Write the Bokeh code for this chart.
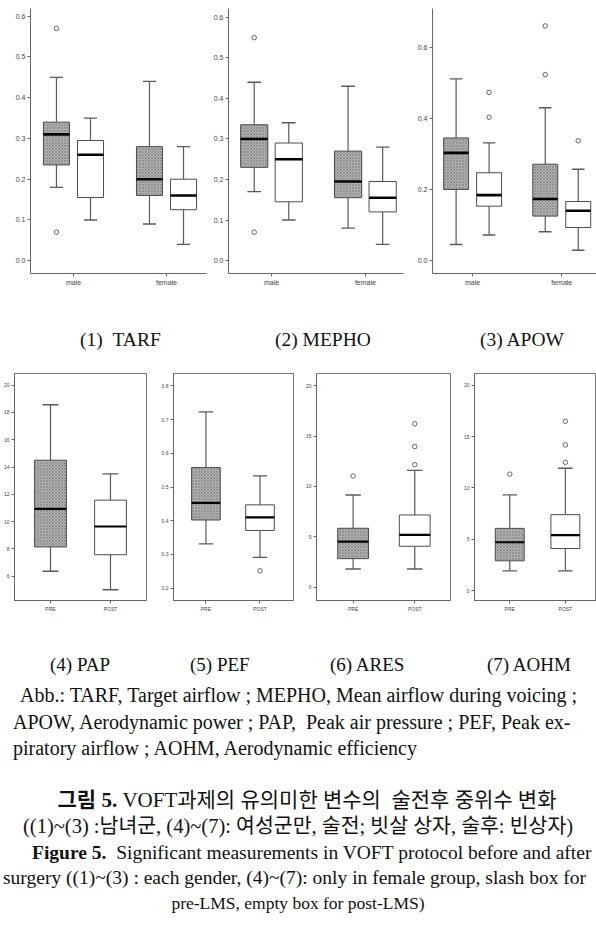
from bokeh.plotting import figure
from bokeh.layouts import column, row
from bokeh.models import FixedTicker, Div, Range1d, NumeralTickFormatter
from bokeh.embed import file_html
from bokeh.resources import INLINE

# ---------------- data ----------------
# top row: order = male pre, male post, female pre, female post
top_groups = ["male", "female"]
top_kind = ["pre", "post", "pre", "post"]

tarf_q1 = [0.235, 0.155, 0.160, 0.125]
tarf_med = [0.310, 0.260, 0.200, 0.160]
tarf_q3 = [0.340, 0.295, 0.280, 0.200]
tarf_lo = [0.180, 0.100, 0.090, 0.040]
tarf_hi = [0.450, 0.350, 0.440, 0.280]
tarf_out_box = [0, 0]
tarf_out_val = [0.570, 0.070]

mepho_q1 = [0.230, 0.145, 0.155, 0.120]
mepho_med = [0.300, 0.250, 0.195, 0.155]
mepho_q3 = [0.335, 0.290, 0.270, 0.195]
mepho_lo = [0.170, 0.100, 0.080, 0.040]
mepho_hi = [0.440, 0.340, 0.430, 0.280]
mepho_out_box = [0, 0]
mepho_out_val = [0.550, 0.070]

apow_q1 = [0.200, 0.153, 0.125, 0.093]
apow_med = [0.303, 0.184, 0.173, 0.140]
apow_q3 = [0.345, 0.247, 0.271, 0.166]
apow_lo = [0.045, 0.072, 0.081, 0.029]
apow_hi = [0.511, 0.331, 0.430, 0.257]
apow_out_box = [1, 1, 2, 2, 3]
apow_out_val = [0.473, 0.403, 0.660, 0.523, 0.337]

top_ticks = [0.0, 0.1, 0.2, 0.3, 0.4, 0.5, 0.6]
apow_ticks = [0.0, 0.2, 0.4, 0.6]

# bottom row: order = PRE, POST (female group only)
bot_groups = ["PRE", "POST"]
bot_kind = ["pre", "post"]

pap_q1 = [8.14, 7.57]
pap_med = [10.93, 9.64]
pap_q3 = [14.50, 11.57]
pap_lo = [6.36, 5.00]
pap_hi = [18.57, 13.50]
pap_out_box = []
pap_out_val = []
pap_ticks = [6, 8, 10, 12, 14, 16, 18, 20]

pef_q1 = [0.402, 0.371]
pef_med = [0.453, 0.410]
pef_q3 = [0.558, 0.447]
pef_lo = [0.331, 0.291]
pef_hi = [0.723, 0.533]
pef_out_box = [1]
pef_out_val = [0.251]
pef_ticks = [0.2, 0.3, 0.4, 0.5, 0.6, 0.7, 0.8]

ares_q1 = [2.83, 4.06]
ares_med = [4.53, 5.20]
ares_q3 = [5.85, 7.17]
ares_lo = [1.80, 1.80]
ares_hi = [9.15, 11.60]
ares_out_box = [0, 1, 1, 1]
ares_out_val = [11.04, 12.17, 13.96, 16.23]
ares_ticks = [0, 5, 10, 15, 20]

aohm_q1 = [2.90, 4.10]
aohm_med = [4.71, 5.40]
aohm_q3 = [6.06, 7.40]
aohm_lo = [1.92, 1.92]
aohm_hi = [9.33, 11.92]
aohm_out_box = [0, 1, 1, 1]
aohm_out_val = [11.35, 12.50, 14.20, 16.50]
aohm_ticks = [0, 5, 10, 15, 20]

top_captions = ["(1)&nbsp;&nbsp;TARF", "(2) MEPHO", "(3) APOW"]
bot_captions = ["(4) PAP", "(5) PEF", "(6) ARES", "(7) AOHM"]

# ---------------- styling helpers ----------------
EDGE = "#4d4d4d"
WHISK = "#5a5a5a"
PRE_FILL = "#b4b4b4"


def box_panel(width, height, borders, xr, yr, groups, kinds, centers,
              q1, med, q3, lo, hi, out_box, out_val, ticks, fmt,
              box_w, outline, tick_font, med_w):
    left, right, top, bottom = borders
    p = figure(width=width, height=height, output_backend="svg",
               toolbar_location=None, x_range=Range1d(*xr),
               y_range=Range1d(*yr), min_border_left=left,
               min_border_right=right, min_border_top=top,
               min_border_bottom=bottom)
    p.xgrid.visible = False
    p.ygrid.visible = False
    p.background_fill_color = "white"
    p.border_fill_color = "white"
    p.outline_line_color = outline
    p.outline_line_width = 1

    xs = centers
    half = box_w / 2.0
    cap = box_w / 4.0
    # whiskers
    p.segment(x0=xs, y0=q3, x1=xs, y1=hi, line_color=WHISK, line_width=1.2)
    p.segment(x0=xs, y0=q1, x1=xs, y1=lo, line_color=WHISK, line_width=1.2)
    p.segment(x0=[x - cap for x in xs], y0=hi, x1=[x + cap for x in xs],
              y1=hi, line_color=WHISK, line_width=1.4)
    p.segment(x0=[x - cap for x in xs], y0=lo, x1=[x + cap for x in xs],
              y1=lo, line_color=WHISK, line_width=1.4)
    # boxes
    pre_i = [i for i, k in enumerate(kinds) if k == "pre"]
    post_i = [i for i, k in enumerate(kinds) if k == "post"]
    p.vbar(x=[xs[i] for i in pre_i], width=box_w,
           bottom=[q1[i] for i in pre_i], top=[q3[i] for i in pre_i],
           fill_color=PRE_FILL, line_color=EDGE, line_width=1,
           hatch_pattern="x", hatch_color="#7a7a7a", hatch_scale=3,
           hatch_weight=0.6)
    p.vbar(x=[xs[i] for i in post_i], width=box_w,
           bottom=[q1[i] for i in post_i], top=[q3[i] for i in post_i],
           fill_color="white", line_color=EDGE, line_width=1)
    # medians
    p.segment(x0=[x - half for x in xs], y0=med, x1=[x + half for x in xs],
              y1=med, line_color="black", line_width=med_w)
    # outliers
    if out_box:
        p.scatter(x=[xs[i] for i in out_box], y=out_val, marker="circle",
                  size=4.5, fill_color=None, line_color="#555555",
                  line_width=0.9)

    # axes
    gticks = list(range(1, len(groups) + 1))
    p.xaxis.ticker = FixedTicker(ticks=gticks)
    p.xaxis.major_label_overrides = {g: name for g, name in zip(gticks, groups)}
    p.yaxis.ticker = FixedTicker(ticks=ticks)
    p.yaxis.formatter = NumeralTickFormatter(format=fmt)
    for ax in (p.xaxis, p.yaxis):
        ax.axis_line_color = "#666666"
        ax.axis_line_width = 1
        ax.major_tick_line_color = "#666666"
        ax.major_tick_in = 0
        ax.major_tick_out = 3
        ax.minor_tick_line_color = None
        ax.major_label_text_font = "Liberation Sans"
        ax.major_label_text_font_size = tick_font
        ax.major_label_text_color = "#444444"
        ax.major_label_standoff = 2
    return p


def top_centers(d):
    return [1 - d, 1 + d, 2 - d, 2 + d]


# ---------------- top row ----------------
p1 = box_panel(210, 300, (30, 4, 8, 23), (0.538, 2.43), (-0.0315, 0.619),
               top_groups, top_kind, top_centers(0.183),
               tarf_q1, tarf_med, tarf_q3, tarf_lo, tarf_hi,
               tarf_out_box, tarf_out_val, top_ticks, "0.0", 0.28, None,
               "7px", 2.6)
p2 = box_panel(200, 300, (14, 7, 7, 27), (0.542, 2.406), (-0.032, 0.622),
               top_groups, top_kind, top_centers(0.184),
               mepho_q1, mepho_med, mepho_q3, mepho_lo, mepho_hi,
               mepho_out_box, mepho_out_val, top_ticks, "0.0", 0.29, None,
               "7px", 2.6)
p3 = box_panel(186, 300, (22, 0, 7, 27), (0.55, 2.39), (-0.0364, 0.709),
               top_groups, top_kind, top_centers(0.185),
               apow_q1, apow_med, apow_q3, apow_lo, apow_hi,
               apow_out_box, apow_out_val, apow_ticks, "0.0", 0.28, None,
               "7px", 2.6)

# ---------------- bottom row ----------------
p4 = box_panel(158, 255, (14, 12, 2, 20), (0.4, 2.6), (4.214, 20.857),
               bot_groups, bot_kind, [1, 2],
               pap_q1, pap_med, pap_q3, pap_lo, pap_hi,
               pap_out_box, pap_out_val, pap_ticks, "0", 0.53, "#777777",
               "5px", 2.2)
p5 = box_panel(144, 255, (13, 9, 5, 13), (0.4, 2.62), (0.163, 0.837),
               bot_groups, bot_kind, [1, 2],
               pef_q1, pef_med, pef_q3, pef_lo, pef_hi,
               pef_out_box, pef_out_val, pef_ticks, "0.0", 0.53, "#777777",
               "5px", 2.2)
p6 = box_panel(158, 255, (9, 10, 4, 13), (0.406, 2.58), (-1.33, 21.23),
               bot_groups, bot_kind, [1, 2],
               ares_q1, ares_med, ares_q3, ares_lo, ares_hi,
               ares_out_box, ares_out_val, ares_ticks, "0", 0.5, "#777777",
               "5px", 2.2)
p7 = box_panel(136, 255, (13, 0, 8, 18), (0.366, 2.56), (-0.97, 21.16),
               bot_groups, bot_kind, [1, 2],
               aohm_q1, aohm_med, aohm_q3, aohm_lo, aohm_hi,
               aohm_out_box, aohm_out_val, aohm_ticks, "0", 0.52, "#777777",
               "5px", 2.2)

# ---------------- text ----------------
SERIF = "'Liberation Serif', 'Times New Roman', 'Noto Sans CJK KR', serif"

cap_top_html = (
    f"<div style=\"font-family:{SERIF}; font-size:19.5px; color:#111; "
    "white-space:nowrap; line-height:26px; width:596px; overflow:hidden;\">"
    "<div style=\"height:27px\"></div>"
    f"<span style=\"display:inline-block; width:195px; margin-left:80px\">{top_captions[0]}</span>"
    f"<span style=\"display:inline-block; width:205px\">{top_captions[1]}</span>"
    f"<span style=\"display:inline-block\">{top_captions[2]}</span>"
    "</div>"
)
div_top = Div(text=cap_top_html, width=596, height=65, margin=(0, 0, 0, 0),
              styles={"overflow": "hidden"})


def line_block(center, prev_end, inner, extra=""):
    h = 26
    top = center - h // 2
    mt = top - prev_end
    html = (f"<div style=\"height:{h}px; line-height:{h}px; margin-top:{mt}px; "
            f"white-space:nowrap; {extra}\">{inner}</div>")
    return html, top + h


bot_caps_inner = (
    f"<span style=\"display:inline-block; width:140px; margin-left:50px\">{bot_captions[0]}</span>"
    f"<span style=\"display:inline-block; width:140px\">{bot_captions[1]}</span>"
    f"<span style=\"display:inline-block; width:157px\">{bot_captions[2]}</span>"
    f"<span style=\"display:inline-block\">{bot_captions[3]}</span>"
)

text_lines = [
    (45, bot_caps_inner, "font-size:19px;"),
    (75, "Abb.: TARF, Target airflow ; MEPHO, Mean airflow during voicing ;",
     "font-size:20px; margin-left:20px;"),
    (102, "APOW, Aerodynamic power ; PAP,&nbsp; Peak air pressure ; PEF, Peak ex-",
     "font-size:20px; margin-left:13px;"),
    (128, "piratory airflow ; AOHM, Aerodynamic efficiency",
     "font-size:20px; margin-left:13px;"),
    (180, "<b>그림 5.</b> VOFT과제의 유의미한 변수의&nbsp; 술전후 중위수 변화",
     "font-size:21px; text-align:center; padding-left:18px;"),
    (206, "((1)~(3) :남녀군, (4)~(7): 여성군만, 술전; 빗살 상자, 술후: 빈상자)",
     "font-size:20.5px; margin-left:23px;"),
    (233, "<b>Figure 5.</b>&nbsp; Significant measurements in VOFT protocol before and after",
     "font-size:19.5px; margin-left:32px;"),
    (258, "surgery ((1)~(3) : each gender, (4)~(7): only in female group, slash box for",
     "font-size:19.5px; margin-left:3px;"),
    (283, "pre-LMS, empty box for post-LMS)",
     "font-size:17.5px; text-align:center;"),
]

parts = []
prev = 0
for c, inner, extra in text_lines:
    h, prev = line_block(c, prev, inner, extra)
    parts.append(h)

div_bot = Div(
    text=(f"<div style=\"font-family:{SERIF}; color:#111; width:596px; "
          f"overflow:hidden;\">" + "".join(parts) + "</div>"),
    width=596, height=323, margin=(0, 0, 0, 0),
    styles={"overflow": "hidden"})

layout = column(row(p1, p2, p3), div_top, row(p4, p5, p6, p7), div_bot)

open("out.html", "w").write(file_html(layout, INLINE))
